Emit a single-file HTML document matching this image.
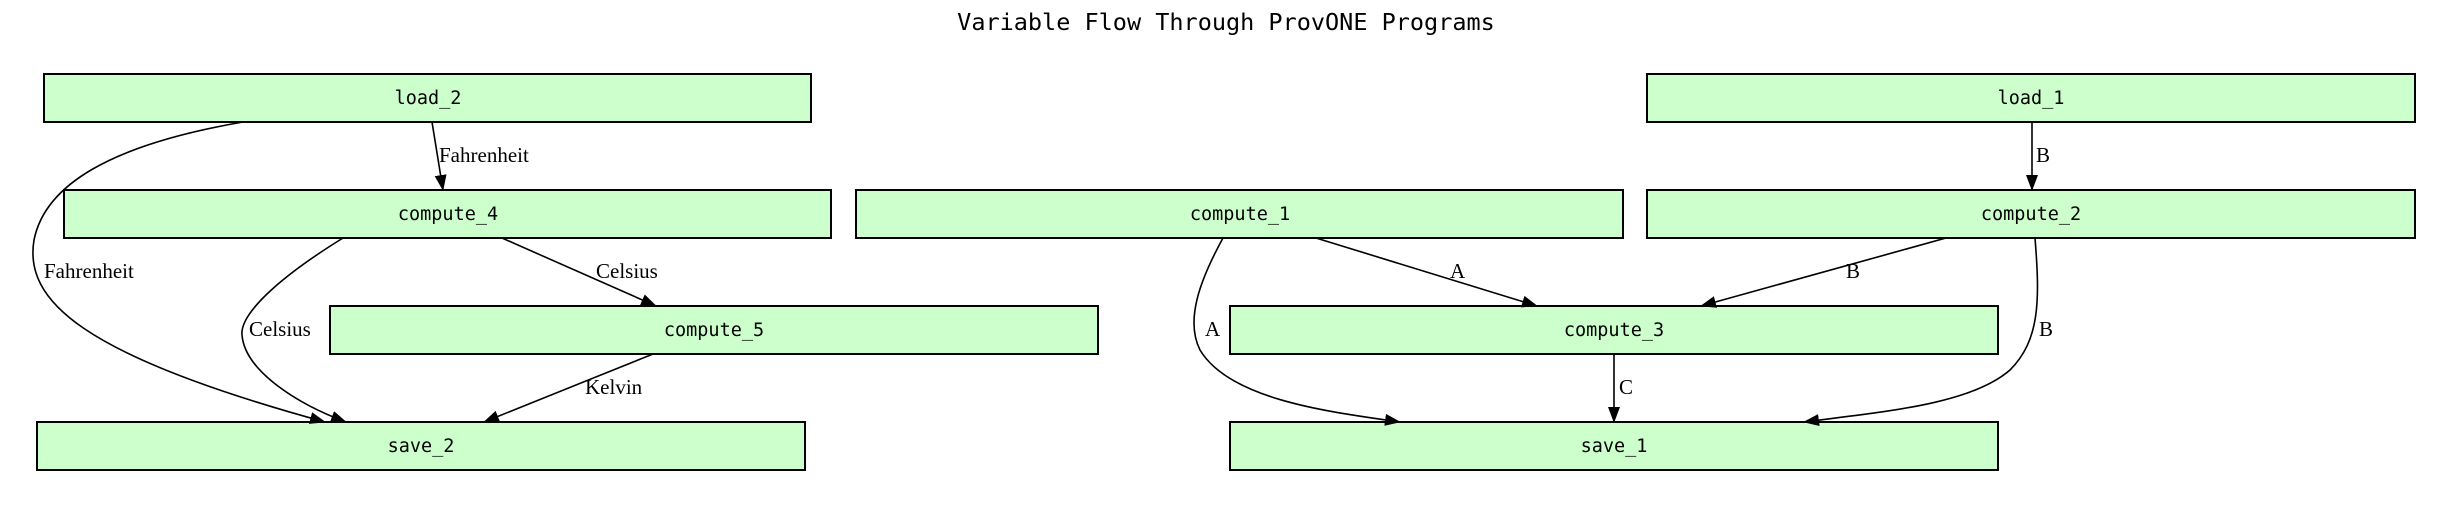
<!DOCTYPE html>
<html><head><meta charset="utf-8"><style>
html,body{margin:0;padding:0;background:#fff;width:2453px;height:508px;overflow:hidden}
svg{display:block}
.n{fill:#ccffcc;stroke:#000;stroke-width:2}
.t{font-family:"DejaVu Sans Mono","Liberation Mono",monospace;font-size:18.5px;text-anchor:middle}
.l{font-family:"Liberation Serif",serif;font-size:21px}
.e{fill:none;stroke:#000;stroke-width:1.6}
</style></head><body>
<svg width="2453" height="508" viewBox="0 0 2453 508">
<defs>
<marker id="b" markerWidth="16" markerHeight="12" refX="15" refY="6" orient="auto" markerUnits="userSpaceOnUse"><path d="M0,0 L16,6 L0,12 z" fill="#000"/></marker></defs>
<text x="1226" y="30" style="font-family:'DejaVu Sans Mono','Liberation Mono',monospace;font-size:23.5px" text-anchor="middle">Variable Flow Through ProvONE Programs</text>

<rect class="n" x="44" y="74" width="767" height="48"/><text class="t" x="428" y="104">load_2</text>
<rect class="n" x="64" y="190" width="767" height="48"/><text class="t" x="448" y="220">compute_4</text>
<rect class="n" x="856" y="190" width="767" height="48"/><text class="t" x="1240" y="220">compute_1</text>
<rect class="n" x="1647" y="74" width="768" height="48"/><text class="t" x="2031" y="104">load_1</text>
<rect class="n" x="1647" y="190" width="768" height="48"/><text class="t" x="2031" y="220">compute_2</text>
<rect class="n" x="330" y="306" width="768" height="48"/><text class="t" x="714" y="336">compute_5</text>
<rect class="n" x="1230" y="306" width="768" height="48"/><text class="t" x="1614" y="336">compute_3</text>
<rect class="n" x="37" y="422" width="768" height="48"/><text class="t" x="421" y="452">save_2</text>
<rect class="n" x="1230" y="422" width="768" height="48"/><text class="t" x="1614" y="452">save_1</text>

<path class="e" marker-end="url(#b)" d="M432,122 L443,190"/>
<text class="l" x="439" y="162">Fahrenheit</text>
<path class="e" marker-end="url(#b)" d="M243,122 C110,145 45,185 34,240 C24,300 80,355 325,422"/>
<text class="l" x="44" y="278">Fahrenheit</text>
<path class="e" marker-end="url(#b)" d="M343,238 C275,280 240,315 242,335 C245,372 300,405 346,422"/>
<text class="l" x="249" y="336">Celsius</text>
<path class="e" marker-end="url(#b)" d="M502,238 L656,306"/>
<text class="l" x="596" y="278">Celsius</text>
<path class="e" marker-end="url(#b)" d="M653,354 L484,422"/>
<text class="l" x="585" y="394">Kelvin</text>

<path class="e" marker-end="url(#b)" d="M1316,238 L1537,306"/>
<text class="l" x="1450" y="278">A</text>
<path class="e" marker-end="url(#b)" d="M1946,238 L1701,306"/>
<text class="l" x="1846" y="278">B</text>
<path class="e" marker-end="url(#b)" d="M1223,238 C1200,280 1185,320 1200,350 C1230,400 1330,412 1400,422"/>
<text class="l" x="1205" y="336">A</text>
<path class="e" marker-end="url(#b)" d="M2035,238 C2040,300 2040,340 2010,370 C1970,405 1880,412 1804,422"/>
<text class="l" x="2039" y="336">B</text>
<path class="e" marker-end="url(#b)" d="M1614,354 L1614,422"/>
<text class="l" x="1619" y="394">C</text>
<path class="e" marker-end="url(#b)" d="M2032,122 L2032,190"/>
<text class="l" x="2036" y="162">B</text>
</svg>
</body></html>
